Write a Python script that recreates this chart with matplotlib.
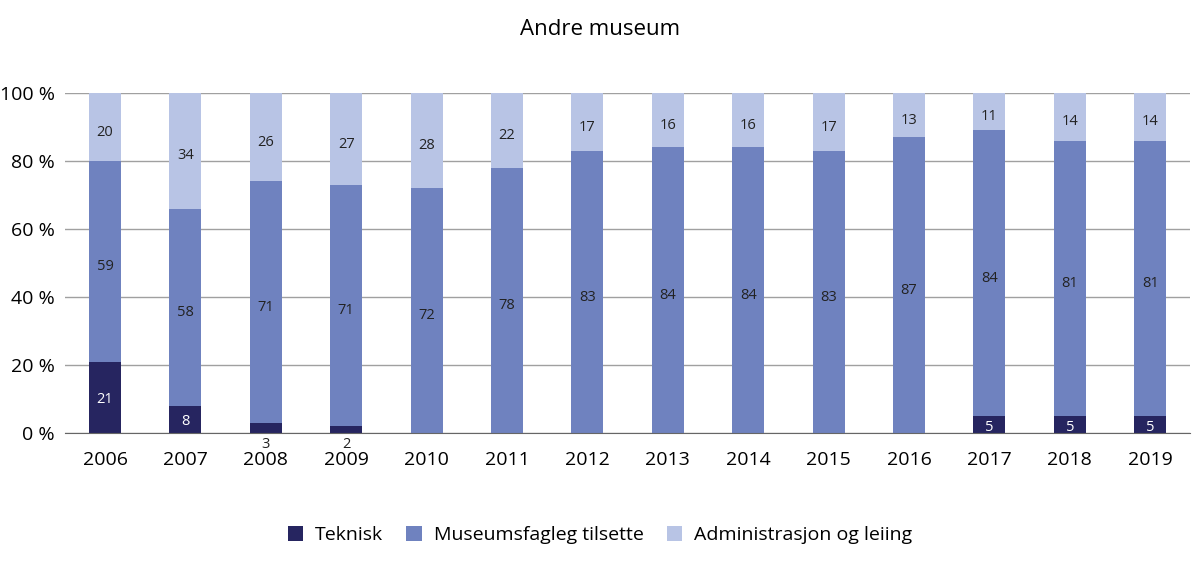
import numpy as np
import matplotlib.pyplot as plt

plt.rcParams['font.family'] = ['Open Sans', 'DejaVu Sans']

years = ['2006', '2007', '2008', '2009', '2010', '2011', '2012',
         '2013', '2014', '2015', '2016', '2017', '2018', '2019']
teknisk = [21, 8, 3, 2, 0, 0, 0, 0, 0, 0, 0, 5, 5, 5]
museumsfagleg = [59, 58, 71, 71, 72, 78, 83, 84, 84, 83, 87, 84, 81, 81]
administrasjon = [20, 34, 26, 27, 28, 22, 17, 16, 16, 17, 13, 11, 14, 14]

c_tek = '#262560'
c_mus = '#6f82bf'
c_adm = '#b8c4e5'

fig = plt.figure(figsize=(12, 5.62), dpi=100)
ax = fig.add_axes([0.054, 0.2295, 0.938, 0.605])

x = np.arange(len(years))
tek = np.array(teknisk)
mus = np.array(museumsfagleg)
adm = np.array(administrasjon)
w = 0.4
off = -1.5  # labels sit a bit below segment centre

ax.bar(x, tek, w, color=c_tek, label='Teknisk', zorder=3)
ax.bar(x, mus, w, bottom=tek, color=c_mus, label='Museumsfagleg tilsette', zorder=3)
ax.bar(x, adm, w, bottom=tek + mus, color=c_adm, label='Administrasjon og leiing', zorder=3)

for i in range(len(years)):
    if tek[i] >= 5:
        ax.text(x[i], tek[i] / 2 + off * 0.5, str(tek[i]), ha='center', va='center',
                color='white', fontsize=10.5, zorder=4)
    elif tek[i] > 0:
        ax.text(x[i], -1.2, str(tek[i]), ha='center', va='top',
                color='#222222', fontsize=10.5, zorder=4)
    ax.text(x[i], tek[i] + mus[i] / 2 + off, str(mus[i]), ha='center', va='center',
            color='#222222', fontsize=10.5, zorder=4)
    ax.text(x[i], tek[i] + mus[i] + adm[i] / 2 + off, str(adm[i]), ha='center', va='center',
            color='#222222', fontsize=10.5, zorder=4)

ax.set_xlim(-0.5, len(years) - 0.5)
ax.set_ylim(0, 100)
ax.set_yticks(range(0, 101, 20))
ax.set_yticklabels([f'{v} %' for v in range(0, 101, 20)], fontsize=14)
ax.set_xticks(x)
ax.set_xticklabels(years, fontsize=14)
ax.tick_params(axis='both', length=0, pad=7)
ax.tick_params(axis='x', pad=13)
ax.yaxis.grid(True, color='#a0a0a0', linewidth=1, zorder=0)
for s in ['top', 'right', 'left']:
    ax.spines[s].set_visible(False)
ax.spines['bottom'].set_color('#666666')
ax.spines['bottom'].set_zorder(5)

fig.text(0.5, 0.947, 'Andre museum', ha='center', va='center', fontsize=16)
fig.legend(loc='center', bbox_to_anchor=(0.5, 0.048), ncol=3, frameon=False,
           fontsize=14, handlelength=0.8, handleheight=0.8, columnspacing=1.2,
           handletextpad=0.6)

fig.savefig('out.png', dpi=100)
